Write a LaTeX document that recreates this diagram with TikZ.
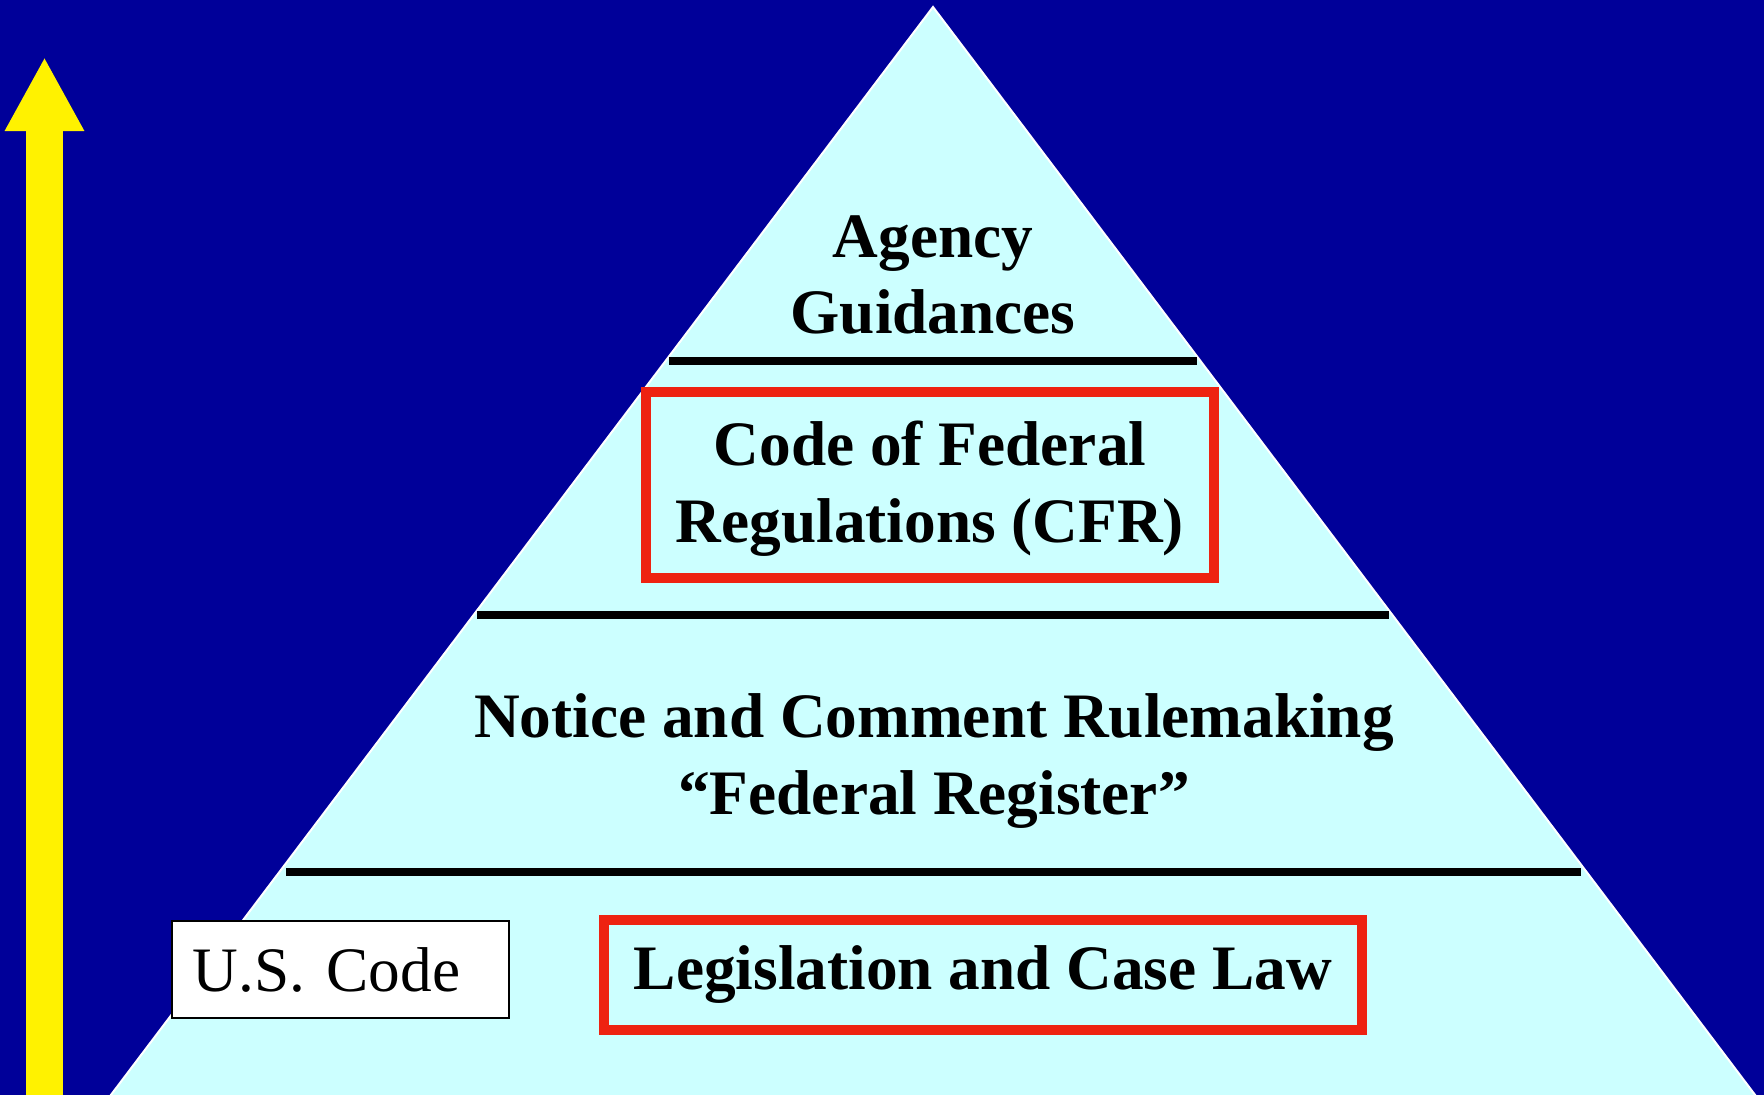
\documentclass[tikz,border=0pt]{standalone}
\usepackage{fontspec}
\setmainfont{Liberation Serif}
\usetikzlibrary{arrows.meta}
\definecolor{navy}{RGB}{0,0,153}
\definecolor{pale}{RGB}{204,255,255}
\definecolor{boxred}{RGB}{238,34,17}
\tikzset{
  tier/.style={font=\fontsize{18}{21.8}\selectfont\bfseries, align=center},
  redframe/.style={tier, draw=boxred, line width=0.1cm, inner sep=0pt},
  divider/.style={line width=0.08cm},
}
\begin{document}
\begin{tikzpicture}[x=0.01cm, y=-0.01cm] % pixel units, y down

        \fill[navy] (0,0) rectangle (1764,1095);
        \clip (0,0) rectangle (1764,1095);
        \filldraw[fill=pale, draw=white, line width=0.02cm] (933,7) -- (1774,1120) -- (92,1120) -- cycle;

        \draw[yellow, line width=0.37cm, -{Triangle[length=0.74cm, width=0.74cm]}] (44.5,1120) -- (44.5,57);

        \draw[divider] (669,361) -- (1197,361);
        \draw[divider] (477,615) -- (1389,615);
        \draw[divider] (286,872) -- (1581,872);

        \node[tier] (guidance) at (933,275) {Agency\\Guidances};
        \node[redframe, minimum width=5.67cm, minimum height=1.86cm] (cfr) at (930,485) {\rule{0pt}{0.52cm}Code of Federal\\Regulations (CFR)};
        \node[tier] (notice) at (934,761) {Notice and Comment Rulemaking\\``Federal Register''};
        \node[redframe, minimum width=7.58cm, minimum height=1.10cm] (law) at (983,975) {Legislation and Case Law};
        \node[draw, fill=white, line width=0.025cm, font=\fontsize{18}{21.8}\selectfont, text width=2.95cm, align=left,
              inner xsep=0.21cm, inner ysep=0pt, minimum height=0.97cm] (uscode) at (340.5,969.5) {U.S. Code};

    \end{tikzpicture}
\end{document}
